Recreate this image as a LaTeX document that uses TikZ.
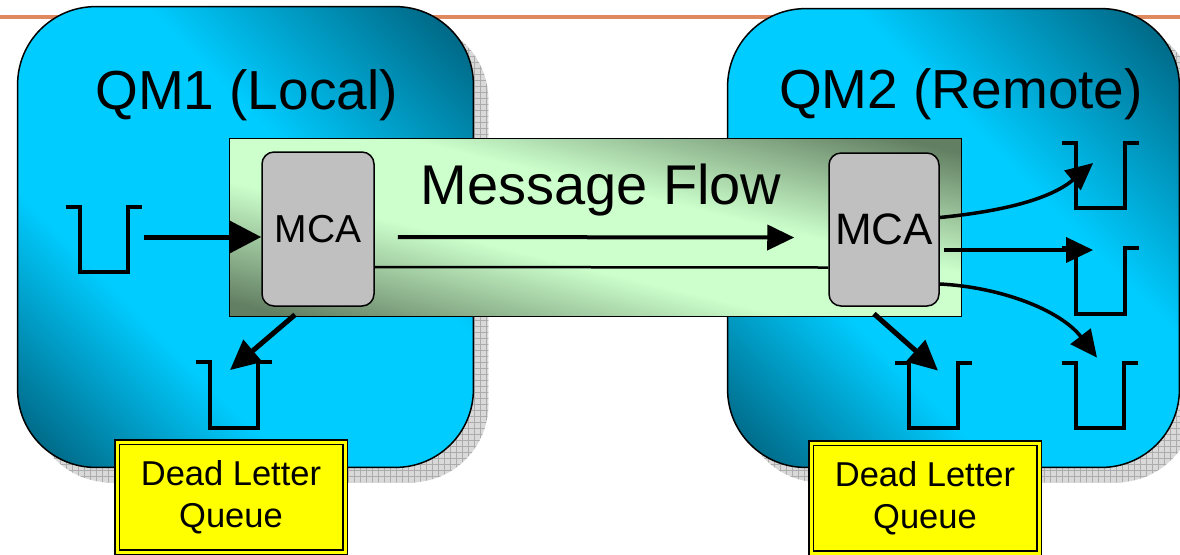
\documentclass[tikz,border=0pt]{standalone}
\usepackage{fontspec}
\setmainfont{Liberation Sans}
\usetikzlibrary{arrows.meta,calc,patterns}
\definecolor{qmdark}{HTML}{00607C}
\definecolor{qmlight}{HTML}{00CCFF}
\definecolor{gdark}{HTML}{637F63}
\definecolor{glight}{HTML}{CCFFCC}
\definecolor{mcagray}{HTML}{C0C0C0}
\definecolor{orangeline}{HTML}{DE8A5E}
\definecolor{dlqyellow}{HTML}{FFFF00}
\pgfdeclareverticalshading{qmshade}{100bp}{color(0bp)=(qmdark); color(26bp)=(qmdark); color(40bp)=(qmlight); color(57bp)=(qmlight); color(74bp)=(qmdark); color(100bp)=(qmdark)}
\pgfdeclareverticalshading{bandshade}{100bp}{color(0bp)=(gdark); color(27bp)=(gdark); color(44bp)=(glight); color(56bp)=(glight); color(73bp)=(gdark); color(100bp)=(gdark)}
\tikzset{
  qmnode/.style={draw=none, inner sep=0pt},
  qmborder/.style={draw=black, line width=0.75pt, rounded corners=39pt},
  qmshadow/.style={rounded corners=39pt, fill=gray!30},
  qmshadowgrid/.style={rounded corners=39pt, pattern=grid, pattern color=gray!65},
  qmtitle/.style={anchor=base, inner sep=0pt, font=\fontsize{27.5}{33}\selectfont},
  band/.style={draw=none, minimum width=365.5pt, minimum height=88.5pt, inner sep=0pt},
  bandborder/.style={draw=black, line width=0.75pt},
  mca/.style={draw=black, line width=0.75pt, fill=mcagray, rounded corners=6pt, inner sep=0pt},
  dlq/.style={draw=black, double=dlqyellow, double distance=1.5pt, line width=0.8pt,
    fill=dlqyellow, minimum width=114pt, minimum height=55pt, inner sep=0pt,
    align=center, font=\fontsize{17.25}{20.75}\selectfont},
  qnode/.style={draw=none, minimum width=24pt, minimum height=32.5pt, inner sep=0pt},
  qline/.style={line width=2pt, line join=miter},
  bigarrow/.style={line width=2.5pt, -{Triangle[length=16pt,width=16pt]}},
  flowarrow/.style={line width=2pt, -{Triangle[length=13.5pt,width=12.5pt]}},
  dlqarrow/.style={line width=2.5pt, -{Triangle[length=15pt,width=14pt]}},
  outarrow/.style={line width=1.75pt, -{Triangle[length=13.5pt,width=12.5pt]}},
  thinline/.style={line width=1.25pt},
}
% #1 name, #2 x, #3 y, #4 width(pt), #5 height(pt)
\newcommand\qmpanel[5]{%
  \node[qmnode, minimum width=#4, minimum height=#5] (#1) at (#2,#3) {};
  \fill[qmshadow] ([shift={(7.5pt,-7.5pt)}]#1.south west) rectangle ([shift={(7.5pt,-7.5pt)}]#1.north east);
  \fill[qmshadowgrid] ([shift={(7.5pt,-7.5pt)}]#1.south west) rectangle ([shift={(7.5pt,-7.5pt)}]#1.north east);
  \begin{scope}
    \clip[rounded corners=39pt] (#1.south west) rectangle (#1.north east);
    \begin{scope}[transform canvas={shift={(#1.center)}, rotate=-45.3}]
      \shade[shading=qmshade] (-170pt,-161.75pt) rectangle (170pt,161.75pt);
    \end{scope}
  \end{scope}
  \draw[qmborder] (#1.south west) rectangle (#1.north east);
}
\newcommand\queueU[3]{%
  \node[qnode] (#1) at (#2,#3) {};
  \draw[qline] (#1.north west) ++(-14,0) -- (#1.north west) -- (#1.south west)
     -- (#1.south east) -- (#1.north east) -- ++(14,0);
}
\begin{document}
\begin{tikzpicture}[x=0.5pt, y=-0.5pt]
\useasboundingbox (0,0) rectangle (1180,554);
\fill[white] (0,0) rectangle (1180,554);
% top orange rule
\draw[orangeline, line width=1.75pt] (0,17) -- (1180,17);
% queue managers
\qmpanel{qm1}{245.5}{237}{227.5pt}{230pt}
\qmpanel{qm2}{953.5}{238}{225.5pt}{229pt}
\node[qmtitle] (t1) at (246.5,109) {QM1 (Local)};
\node[qmtitle] (t2) at (961,108) {QM2 (Remote)};
% channel band
\node[band] (flow) at (595.5,227.5) {};
\begin{scope}
  \clip (flow.south west) rectangle (flow.north east);
  \begin{scope}[transform canvas={shift={(flow.center)}, rotate=-13.6}]
    \shade[shading=bandshade] (-195pt,-86pt) rectangle (195pt,86pt);
  \end{scope}
\end{scope}
\draw[bandborder] (flow.south west) rectangle (flow.north east);
\node[anchor=base, inner sep=0pt, font=\fontsize{28}{34}\selectfont] (mf) at (601,204) {Message Flow};
% MCAs
\node[mca, minimum width=56pt, minimum height=77pt, font=\fontsize{19.5}{23}\selectfont] (mca1) at (318,229) {MCA};
\node[mca, minimum width=55pt, minimum height=76.5pt, font=\fontsize{22}{26}\selectfont] (mca2) at (884,229.5) {MCA};
% queues
\queueU{qin}{104}{239.5}
\queueU{qdl1}{234}{395}
\queueU{qdl2}{933.5}{395.5}
\queueU{qr1}{1100.5}{175.5}
\queueU{qr2}{1100.5}{281}
\queueU{qr3}{1100}{395.5}
% connectors
\draw[bigarrow] ([xshift=8pt,yshift=1.25pt]qin.east) -- ([yshift=-4pt]mca1.west);
\draw[flowarrow] ([xshift=11.5pt,yshift=-4pt]mca1.east) -- ([xshift=-17pt,yshift=-4pt]mca2.west);
\draw[thinline] ([yshift=-19pt]mca1.east) -- ([yshift=-19pt]mca2.west);
\draw[dlqarrow] ([xshift=-11.5pt,yshift=-4pt]mca1.south) -- ([xshift=-2pt,yshift=-4pt]qdl1.north);
\draw[dlqarrow] ([xshift=-5pt,yshift=-3.5pt]mca2.south) -- ([xshift=2.25pt,yshift=-4pt]qdl2.north);
\draw[outarrow] ([yshift=6pt]mca2.east) .. controls +(60,-6) and +(-44,37) .. ([xshift=8.5pt,yshift=6.25pt]qr1.west);
\draw[outarrow] ([xshift=2pt,yshift=-10.25pt]mca2.east) -- ([xshift=8.5pt,yshift=15.5pt]qr2.west);
\draw[outarrow] ([yshift=-27.25pt]mca2.east) .. controls +(60,3) and +(-37,-48) .. ([xshift=-1.5pt,yshift=2.5pt]qr3.north);
% dead letter queue labels
\node[dlq] (dlq1) at (231,497) {Dead Letter\\Queue};
\node[dlq] (dlq2) at (925,498) {Dead Letter\\Queue};
\end{tikzpicture}
\end{document}
